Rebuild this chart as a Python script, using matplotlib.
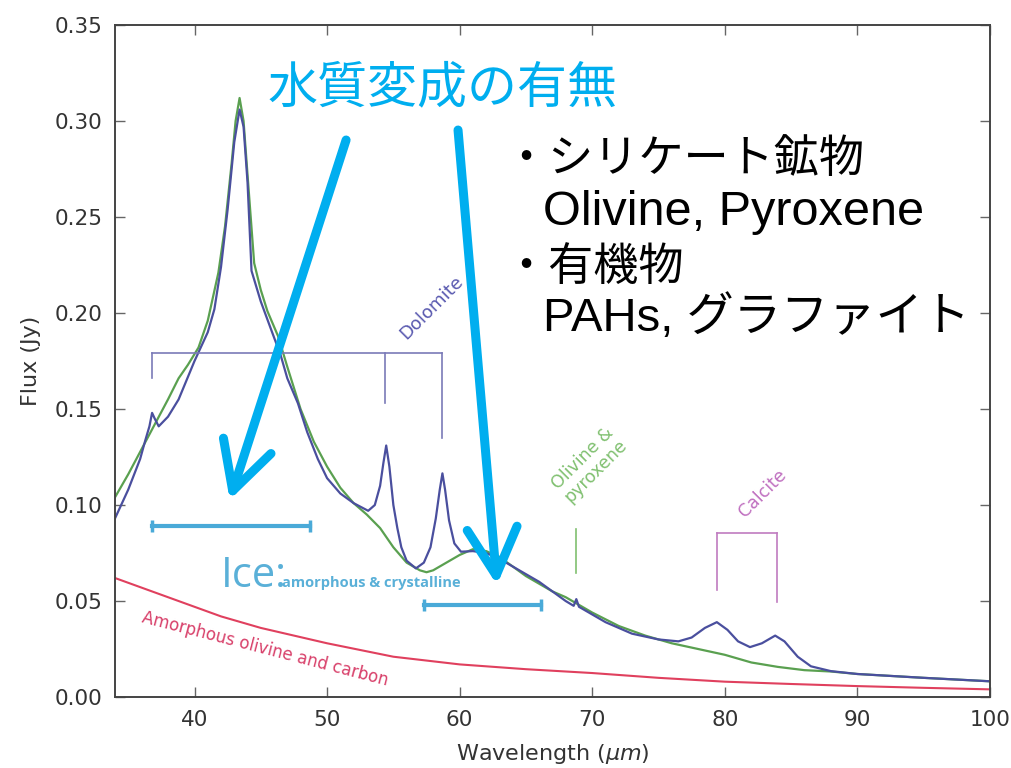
import matplotlib
matplotlib.use("Agg")
import matplotlib.pyplot as plt
import numpy as np

plt.rcParams['font.family'] = ['DejaVu Sans']

# model spectrum (green)
wl_model = [34.0, 35.0, 36.0, 37.0, 38.0, 38.8, 39.5, 40.3, 41.0, 41.8, 42.3, 42.8, 43.1, 43.4,
            43.7, 44.0, 44.5, 45.0, 45.5, 46.3, 47.0, 48.0, 49.0, 50.0, 51.0, 52.0, 53.0, 54.0,
            55.0, 56.0, 57.0, 57.5, 58.0, 59.0, 60.0, 61.0, 62.0, 63.0, 64.0, 65.0, 66.0, 67.0,
            68.0, 69.0, 70.0, 72.0, 74.0, 76.0, 78.0, 80.0, 82.0, 84.0, 86.0, 88.0, 90.0, 95.0, 100.0]
flux_model = [0.104, 0.116, 0.129, 0.142, 0.155, 0.166, 0.173, 0.182, 0.196, 0.221, 0.245, 0.278, 0.300, 0.312,
              0.300, 0.272, 0.226, 0.212, 0.201, 0.188, 0.172, 0.150, 0.133, 0.120, 0.109, 0.101, 0.095, 0.088,
              0.078, 0.070, 0.066, 0.065, 0.066, 0.070, 0.074, 0.077, 0.076, 0.073, 0.068, 0.063, 0.059, 0.055,
              0.052, 0.048, 0.044, 0.037, 0.032, 0.028, 0.025, 0.022, 0.018, 0.0157, 0.014, 0.0133, 0.012, 0.010, 0.0082]

# observed spectrum (blue)
wl_obs = [34.0, 35.0, 35.9, 36.3, 36.6, 36.8, 37.0, 37.3, 38.0, 38.8, 40.0, 41.0, 41.5, 42.0, 42.5,
          43.0, 43.4, 43.7, 44.0, 44.3, 45.0, 45.8, 46.5, 47.0, 47.8, 48.5, 49.3, 50.0, 51.0, 52.0,
          53.1, 53.6, 54.0, 54.25, 54.46, 54.7, 55.0, 55.3, 55.6, 56.0, 56.7, 57.3, 57.8, 58.2, 58.5,
          58.7, 58.9, 59.2, 59.6, 60.1, 61.0, 62.0, 63.0, 64.0, 65.0, 66.0, 67.0, 68.0, 68.6, 68.8,
          69.0, 70.0, 71.0, 73.0, 75.0, 76.5, 77.5, 78.5, 79.4, 80.2, 81.0, 81.9, 82.8, 83.8, 84.5,
          85.5, 86.5, 88.0, 90.0, 95.0, 100.0]
flux_obs = [0.093, 0.108, 0.124, 0.134, 0.141, 0.148, 0.145, 0.141, 0.146, 0.155, 0.175, 0.190, 0.202, 0.224, 0.254,
            0.289, 0.306, 0.297, 0.268, 0.222, 0.206, 0.191, 0.178, 0.166, 0.153, 0.138, 0.124, 0.114, 0.106, 0.101,
            0.097, 0.100, 0.110, 0.122, 0.131, 0.120, 0.100, 0.088, 0.078, 0.071, 0.067, 0.070, 0.078, 0.093, 0.108,
            0.1165, 0.108, 0.092, 0.080, 0.0757, 0.076, 0.075, 0.072, 0.068, 0.064, 0.060, 0.055, 0.050, 0.0475, 0.051,
            0.047, 0.043, 0.039, 0.033, 0.030, 0.029, 0.031, 0.036, 0.039, 0.035, 0.029, 0.026, 0.028, 0.032, 0.029,
            0.021, 0.016, 0.0135, 0.012, 0.010, 0.0082]

# amorphous olivine and carbon continuum (red)
wl_cont = [34, 36, 38, 40, 42, 45, 50, 55, 60, 65, 70, 75, 80, 85, 90, 95, 100]
flux_cont = [0.062, 0.057, 0.052, 0.047, 0.042, 0.036, 0.028, 0.021, 0.017, 0.0145, 0.0125, 0.010, 0.008, 0.0068, 0.0057, 0.0048, 0.004]

# feature positions
dolomite = [36.8, 54.4, 58.7]
dolomite_ends = [0.166, 0.153, 0.135]
calcite = [79.4, 83.95]
calcite_ends = [0.0557, 0.0495]
olivine = 68.8
ice_ranges = [(36.8, 48.7, 0.089), (57.3, 66.1, 0.048)]

fig = plt.figure(figsize=(10.12, 7.68), dpi=100)
ax = fig.add_axes([0.1136, 0.0924, 0.8646, 0.875])

ax.plot(wl_cont, flux_cont, color='#e0405e', lw=1.5)
ax.plot(wl_model, flux_model, color='#5aa050', lw=1.6)
ax.plot(wl_obs, flux_obs, color='#4a4f9e', lw=1.6)

# dolomite bracket
dol_col = '#7a7ab8'
ax.plot([dolomite[0], dolomite[-1]], [0.179, 0.179], color=dol_col, lw=1.2)
for x, y in zip(dolomite, dolomite_ends):
    ax.plot([x, x], [0.179, y], color=dol_col, lw=1.2)
ax.text(56.0, 0.186, 'Dolomite', rotation=45, rotation_mode='anchor', ha='left', va='baseline',
        color='#5a5ab0', fontsize=13)

# calcite bracket
cal_col = '#c07cc0'
ax.plot([calcite[0], calcite[1]], [0.0854, 0.0854], color=cal_col, lw=1.2)
for x, y in zip(calcite, calcite_ends):
    ax.plot([x, x], [0.0854, y], color=cal_col, lw=1.2)
ax.text(82.85, 0.106, 'Calcite', rotation=45, ha='center', va='center', color='#c070c0', fontsize=12.5)

# olivine & pyroxene
ax.plot([olivine, olivine], [0.0875, 0.0646], color='#80c070', lw=1.2)
ax.text(69.75, 0.121, 'Olivine &\npyroxene', rotation=45, ha='center', va='center',
        color='#80c070', fontsize=12.5, linespacing=1.05)

# ice
ice_col = '#4aaad8'
for x0, x1, y in ice_ranges:
    ax.plot([x0, x1], [y, y], color=ice_col, lw=3, marker='|', markersize=9, mew=2.5)
ax.text(42.0, 0.0573, 'Ice:', color='#5ab0d8', fontsize=30, family='Open Sans', va='baseline')
ax.text(46.6, 0.0573, 'amorphous & crystalline', color='#5ab0d8', fontsize=10.5,
        family='Open Sans', fontweight='bold', va='baseline')

ax.text(36.0, 0.039, 'Amorphous olivine and carbon', rotation=-14.5, rotation_mode='anchor',
        ha='left', va='baseline', color='#d8406a', fontsize=12)

ax.set_xlim(34, 100)
ax.set_ylim(0, 0.35)
ax.set_xticks(np.arange(40, 101, 10))
ax.set_yticks(np.arange(0, 0.351, 0.05))
ax.yaxis.set_major_formatter(matplotlib.ticker.FormatStrFormatter('%.2f'))
ax.tick_params(direction='in', top=True, right=True, length=7, width=1, color='#666666',
               labelsize=15.5, labelcolor='#333333', pad=9)
for s in ax.spines.values():
    s.set_color('#444444')
    s.set_linewidth(1.4)
ax.set_xlabel(r'Wavelength ($\mu m$)', fontsize=16, color='#333333', labelpad=9)
ax.set_ylabel('Flux (Jy)', fontsize=16, color='#333333', labelpad=10)

# overlay: title, arrows, bullet text
arrow_col = '#00aeef'
fig.text(0.437, 0.885, '水質変成の有無', color=arrow_col, fontsize=36, family='Noto Sans CJK JP',
         ha='center', va='center')
for start, end in [((0.342, 0.8177), (0.227, 0.349)), ((0.4526, 0.8307), (0.4911, 0.2383))]:
    ax.annotate('', xy=end, xytext=start, xycoords='figure fraction', textcoords='figure fraction',
                annotation_clip=False, zorder=10,
                arrowprops=dict(arrowstyle='->,head_length=1.7,head_width=0.9', lw=6.5,
                                color=arrow_col, shrinkA=0, shrinkB=0, mutation_scale=20,
                                capstyle='round'))

jp = ['Liberation Sans', 'Noto Sans CJK JP']
fig.text(0.497, 0.7917, '・シリケート鉱物', fontsize=32.5, family=jp, va='center', ha='left')
fig.text(0.537, 0.7227, 'Olivine, Pyroxene', fontsize=35, family=jp, va='center', ha='left')
fig.text(0.497, 0.651, '・有機物', fontsize=32.5, family=jp, va='center', ha='left')
fig.text(0.537, 0.586, 'PAHs, グラファイト', fontsize=34, family=jp, va='center', ha='left')

plt.savefig('out.png', dpi=100)
